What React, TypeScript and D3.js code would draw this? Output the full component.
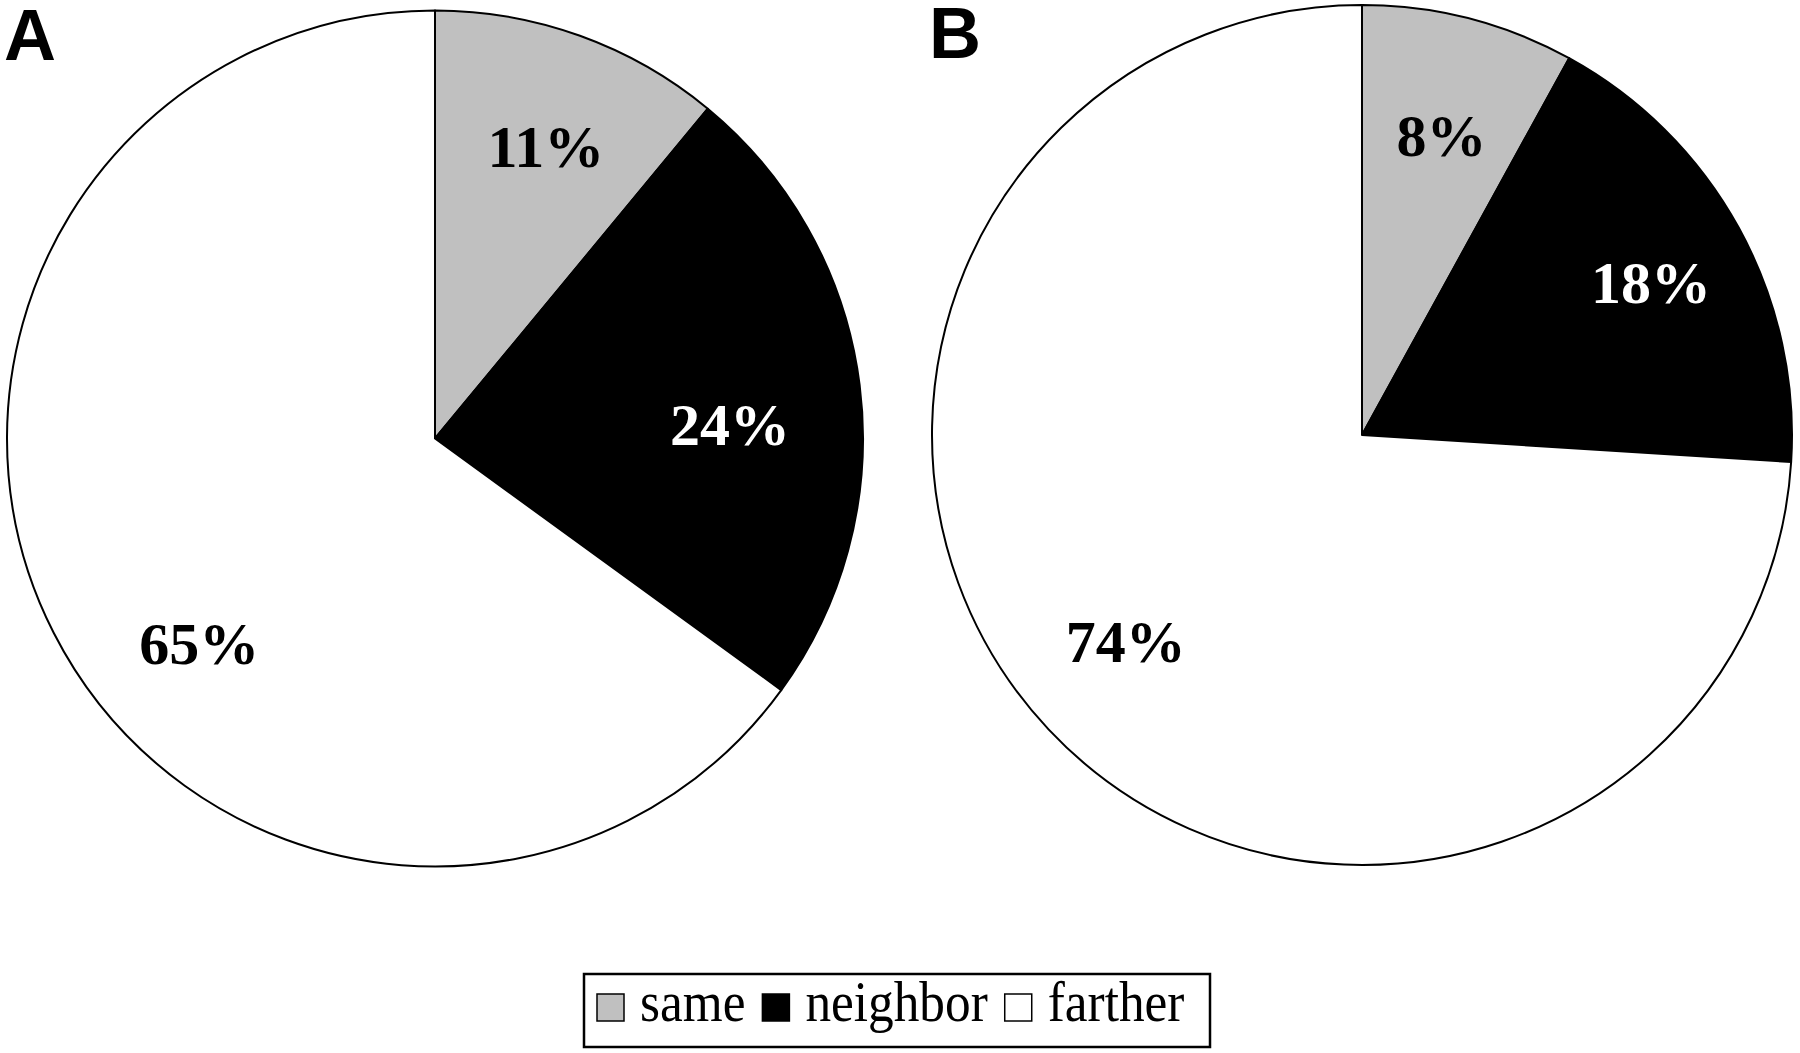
import React, { useEffect, useRef } from "react";
import * as d3 from "d3";

// categories + shares (percent)
const categories = ["same", "neighbor", "farther"];
const fills = ["#c0c0c0", "#000000", "#ffffff"];
const labelFills = ["#000000", "#ffffff", "#000000"];
const panelLetters = ["A", "B"];
const valuesA = [11, 24, 65];
const valuesB = [8, 18, 74];

const W = 1800;
const H = 1053;

// layout of each panel (label nudges: degrees off mid-angle, radius factor)
const panels = [
  {
    letter: panelLetters[0], values: valuesA, cx: 435, cy: 438.5, r: 428,
    letterX: 4, letterY: 60, shift: [1, 4.5, -14], rf: [0.73, 0.69, 0.73],
  },
  {
    letter: panelLetters[1], values: valuesB, cx: 1362, cy: 435, r: 430,
    letterX: 929, letterY: 58, shift: [0.5, 1, 2], rf: [0.72, 0.76, 0.73],
  },
];

const serif = "'Liberation Serif', 'Times New Roman', serif";

export default function App() {
  const svgRef = useRef<SVGSVGElement>(null);

  useEffect(() => {
    document.body.style.margin = "0";
    const svg = d3.select(svgRef.current);
    svg.selectAll("*").remove();

    const pie = d3
      .pie<number>()
      .sort(null)
      .value((d) => d);

    panels.forEach((p) => {
      const g = svg.append("g").attr("transform", `translate(${p.cx},${p.cy})`);
      const arcs = pie(p.values);
      const arc = d3.arc<d3.PieArcDatum<number>>().innerRadius(0).outerRadius(p.r);

      g.selectAll("path")
        .data(arcs)
        .join("path")
        .attr("d", arc)
        .attr("fill", (d, i) => fills[i])
        .attr("stroke", "#000")
        .attr("stroke-width", 2)
        .attr("stroke-linejoin", "round");

      // labels along the mid angle, nudged like excel's "best fit"
      g.selectAll("text")
        .data(arcs)
        .join("text")
        .attr("transform", (d, i) => {
          const a = (d.startAngle + d.endAngle) / 2 + (p.shift[i] * Math.PI) / 180;
          const lr = p.r * p.rf[i];
          return `translate(${Math.sin(a) * lr},${-Math.cos(a) * lr})`;
        })
        .attr("text-anchor", "middle")
        .attr("dy", "0.34em")
        .attr("font-family", serif)
        .attr("font-weight", "bold")
        .attr("font-size", 60)
        .attr("fill", (d, i) => labelFills[i])
        .text((d) => `${d.data}%`);

      svg
        .append("text")
        .attr("x", p.letterX)
        .attr("y", p.letterY)
        .attr("font-family", "'Liberation Sans', Arial, sans-serif")
        .attr("font-weight", "bold")
        .attr("font-size", 72)
        .text(p.letter);
    });

    // legend
    const box = { x: 584, y: 974, w: 626, h: 73 };
    const legend = svg.append("g");
    legend
      .append("rect")
      .attr("x", box.x)
      .attr("y", box.y)
      .attr("width", box.w)
      .attr("height", box.h)
      .attr("fill", "#fff")
      .attr("stroke", "#000")
      .attr("stroke-width", 2.5);

    const sq = 27;
    const base = 1021;
    const sx = 0.9; // text is a bit condensed in the original
    let x = box.x + 13;
    categories.forEach((c, i) => {
      legend
        .append("rect")
        .attr("x", x)
        .attr("y", base - sq)
        .attr("width", sq)
        .attr("height", sq)
        .attr("fill", fills[i])
        .attr("stroke", "#000")
        .attr("stroke-width", 1.5);
      const tx = x + sq + 16;
      const t = legend
        .append("text")
        .attr("transform", `translate(${tx},${base}) scale(${sx},1)`)
        .attr("font-family", serif)
        .attr("font-size", 57)
        .text(c);
      const tw = (t.node() as SVGTextElement).getComputedTextLength() * sx;
      x = tx + tw + 17;
    });
  }, []);

  return <svg ref={svgRef} width={W} height={H} style={{ display: "block", background: "#fff" }} />;
}
